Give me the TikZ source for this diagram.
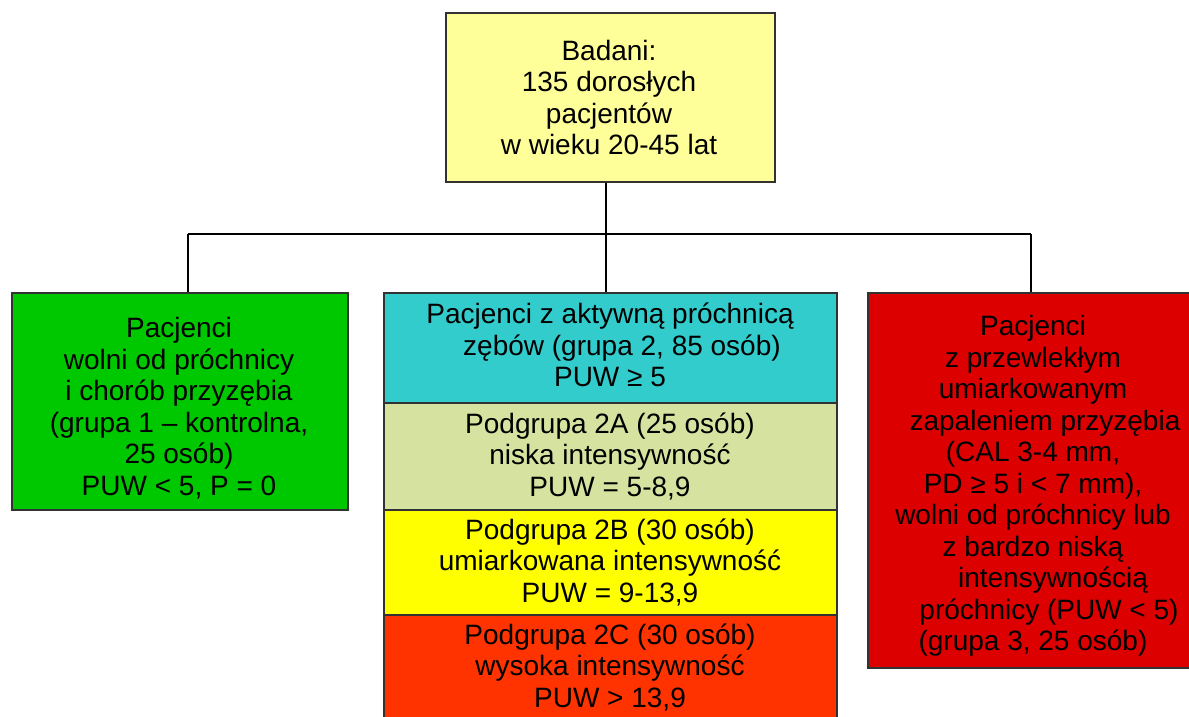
\documentclass[tikz,border=0pt]{standalone}
\usepackage{fontspec}
\setmainfont{Liberation Sans}
\definecolor{topy}{RGB}{255,255,153}
\definecolor{grn}{RGB}{0,200,0}
\definecolor{cyn}{RGB}{51,204,204}
\definecolor{olv}{RGB}{214,227,160}
\definecolor{ylw}{RGB}{255,255,0}
\definecolor{orn}{RGB}{255,51,0}
\definecolor{rd}{RGB}{221,0,0}
\definecolor{edge}{RGB}{50,50,50}
\begin{document}
\begin{tikzpicture}[x=1pt,y=-1pt,
  box/.style={draw=edge,line width=1.5pt,inner sep=0pt,rectangle},
  txt/.style={align=center,inner sep=0pt,font=\fontsize{28}{31.5}\selectfont},
  conn/.style={draw=black,line width=1.5pt}]
\useasboundingbox (0,0) rectangle (1189,716);
% boxes
\node[box,fill=topy,minimum width=329pt,minimum height=169pt] (top) at (610.5,97.5) {};
\node[box,fill=grn,minimum width=336pt,minimum height=217pt] (left) at (180,401.5) {};
\node[box,fill=cyn,minimum width=453pt,minimum height=110pt] (cyan) at (610.5,348) {};
\node[box,fill=olv,minimum width=453pt,minimum height=107pt] (ga) at (610.5,456.5) {};
\node[box,fill=ylw,minimum width=453pt,minimum height=105pt] (gb) at (610.5,562.5) {};
\node[box,fill=orn,minimum width=453pt,minimum height=107pt] (gc) at (610.5,668.5) {};
\node[box,fill=rd,minimum width=340pt,minimum height=375pt] (right) at (1038,480.5) {};
% texts
\node[txt] (topt) at (609,97.5) {Badani:\\135 dorosłych\\pacjentów\\w wieku 20-45 lat};
\node[txt] (leftt) at (179,408) {Pacjenci\\wolni od próchnicy\\i chorób przyzębia\\(grupa 1 – kontrolna,\\25 osób)\\PUW < 5, P = 0};
\node[txt] (cyant) at (610,345) {Pacjenci z aktywną próchnicą\\\hspace*{24pt}zębów (grupa 2, 85 osób)\\PUW ≥ 5};
\node[txt] (gat) at (610,456) {Podgrupa 2A (25 osób)\\niska intensywność\\PUW = 5-8,9};
\node[txt] (gbt) at (610,562) {Podgrupa 2B (30 osób)\\umiarkowana intensywność\\PUW = 9-13,9};
\node[txt] (gct) at (610,667) {Podgrupa 2C (30 osób)\\wysoka intensywność\\PUW > 13,9};
\node[txt] (rightt) at (1033,486) {Pacjenci\\z przewlekłym\\umiarkowanym\\\hspace*{24pt}zapaleniem przyzębia\\(CAL 3-4 mm,\\PD ≥ 5 i < 7 mm),\\wolni od próchnicy lub\\z bardzo niską\\\hspace*{40pt}intensywnością\\\hspace*{32pt}próchnicy (PUW < 5)\\(grupa 3, 25 osób)};
% connectors
\coordinate (j) at (606,234);
\coordinate (jl) at (188,234);
\coordinate (jr) at (1031,234);
\draw[conn] (top.south -| j) -- (cyan.north -| j);
\draw[conn] (jl) -- (jr);
\draw[conn] (jl) -- (jl |- left.north);
\draw[conn] (jr) -- (jr |- right.north);
\end{tikzpicture}
\end{document}
